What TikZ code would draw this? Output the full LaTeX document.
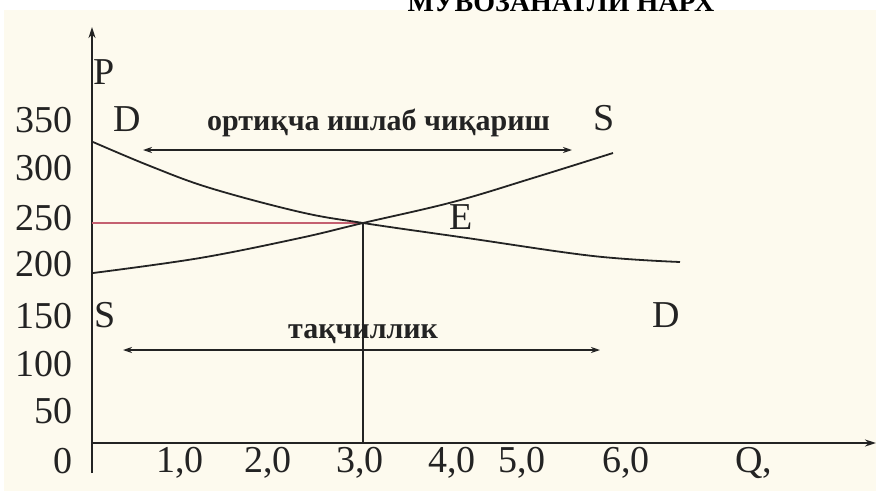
\documentclass[tikz,border=0pt]{standalone}
\usepackage{fontspec}
\setmainfont{Liberation Serif}
\usetikzlibrary{arrows.meta}
\definecolor{cream}{RGB}{253,250,238}
\definecolor{ink}{RGB}{35,35,35}
\definecolor{redline}{RGB}{196,96,112}
\tikzset{
  lbl/.style={font=\fontsize{38}{38}\selectfont, text=ink, inner sep=0pt},
  btxt/.style={font=\fontsize{30}{30}\selectfont\bfseries, text=ink, inner sep=0pt},
  ttl/.style={font=\fontsize{28}{28}\selectfont\bfseries, text=black, inner sep=0pt},
  axisline/.style={line width=2pt, draw=ink, -{Stealth[length=11pt,width=7pt]}},
  curveline/.style={line width=1.8pt, draw=ink},
  dblarrow/.style={line width=1.8pt, draw=ink, {Stealth[length=9pt,width=6pt]}-{Stealth[length=9pt,width=6pt]}},
}
\begin{document}
\begin{tikzpicture}[x=1pt,y=-1pt]
\useasboundingbox (0,0) rectangle (876,491);
\fill[white] (0,0) rectangle (876,491);
\fill[cream] (4,10) rectangle (876,491);
\begin{scope}
\clip (0,0) rectangle (876,491);
\node[ttl, anchor=base] (title) at (561,11) {МУВОЗАНАТЛИ НАРХ};
\end{scope}

% axes
\coordinate (O) at (92,443);
\coordinate (ybot) at (92,473);
\coordinate (ytop) at (92,27);
\coordinate (xend) at (876,443);
\draw[axisline] (ybot) -- (ytop);
\draw[axisline] (O) -- (xend);

% equilibrium guides
\coordinate (E) at (363,223);
\coordinate (Ey) at (92,223);
\coordinate (Ex) at (363,443);
\draw[redline, line width=1.2pt] (Ey) -- (E);
\draw[ink, line width=1.4pt] (E) -- (Ex);

% demand curve
\coordinate (d1) at (93,142);
\coordinate (d2) at (150,166);
\coordinate (d3) at (210,188);
\coordinate (d4) at (300,212);
\coordinate (d5) at (467,238);
\coordinate (d6) at (593,256);
\coordinate (d7) at (680,262);
\draw[curveline] plot[smooth, tension=0.6] coordinates {(d1) (d2) (d3) (d4) (E) (d5) (d6) (d7)};

% supply curve
\coordinate (s1) at (93,273);
\coordinate (s2) at (200,258);
\coordinate (s3) at (300,238);
\coordinate (s4) at (453,202);
\coordinate (s5) at (533,178);
\coordinate (s6) at (613,153);
\draw[curveline] plot[smooth, tension=0.6] coordinates {(s1) (s2) (s3) (E) (s4) (s5) (s6)};

% surplus / shortage arrows
\coordinate (a1) at (143,150);
\coordinate (a2) at (572,150);
\draw[dblarrow] (a1) -- (a2);
\coordinate (b1) at (123,350);
\coordinate (b2) at (600,350);
\draw[dblarrow] (b1) -- (b2);

\node[btxt, anchor=base west] (surplus) at (207,130) {ортиқча ишлаб чиқариш};
\node[btxt, anchor=base west] (shortage) at (288,338) {тақчиллик};

% curve labels
\node[lbl, anchor=base] (P) at (104,84) {P};
\node[lbl, anchor=base] (Dtop) at (127,131) {D};
\node[lbl, anchor=base] (Stop) at (604,130) {S};
\node[lbl, anchor=base] (Elbl) at (461,229) {E};
\node[lbl, anchor=base] (Sbot) at (105,327) {S};
\node[lbl, anchor=base] (Dbot) at (666,327) {D};

% y tick labels
\node[lbl, anchor=base east] (y350) at (73,132) {350};
\node[lbl, anchor=base east] (y300) at (73,180) {300};
\node[lbl, anchor=base east] (y250) at (73,230) {250};
\node[lbl, anchor=base east] (y200) at (73,276) {200};
\node[lbl, anchor=base east] (y150) at (73,328) {150};
\node[lbl, anchor=base east] (y100) at (73,376) {100};
\node[lbl, anchor=base east] (y50) at (73,423) {50};
\node[lbl, anchor=base east] (y0) at (73,473) {0};

% x tick labels
\node[lbl, anchor=base] (x1) at (180,472) {1,0};
\node[lbl, anchor=base] (x2) at (268,472) {2,0};
\node[lbl, anchor=base] (x3) at (360,472) {3,0};
\node[lbl, anchor=base] (x4) at (452,472) {4,0};
\node[lbl, anchor=base] (x5) at (522,472) {5,0};
\node[lbl, anchor=base] (x6) at (626,472) {6,0};
\node[lbl, anchor=base] (Q) at (754,472) {Q,};
\end{tikzpicture}
\end{document}
